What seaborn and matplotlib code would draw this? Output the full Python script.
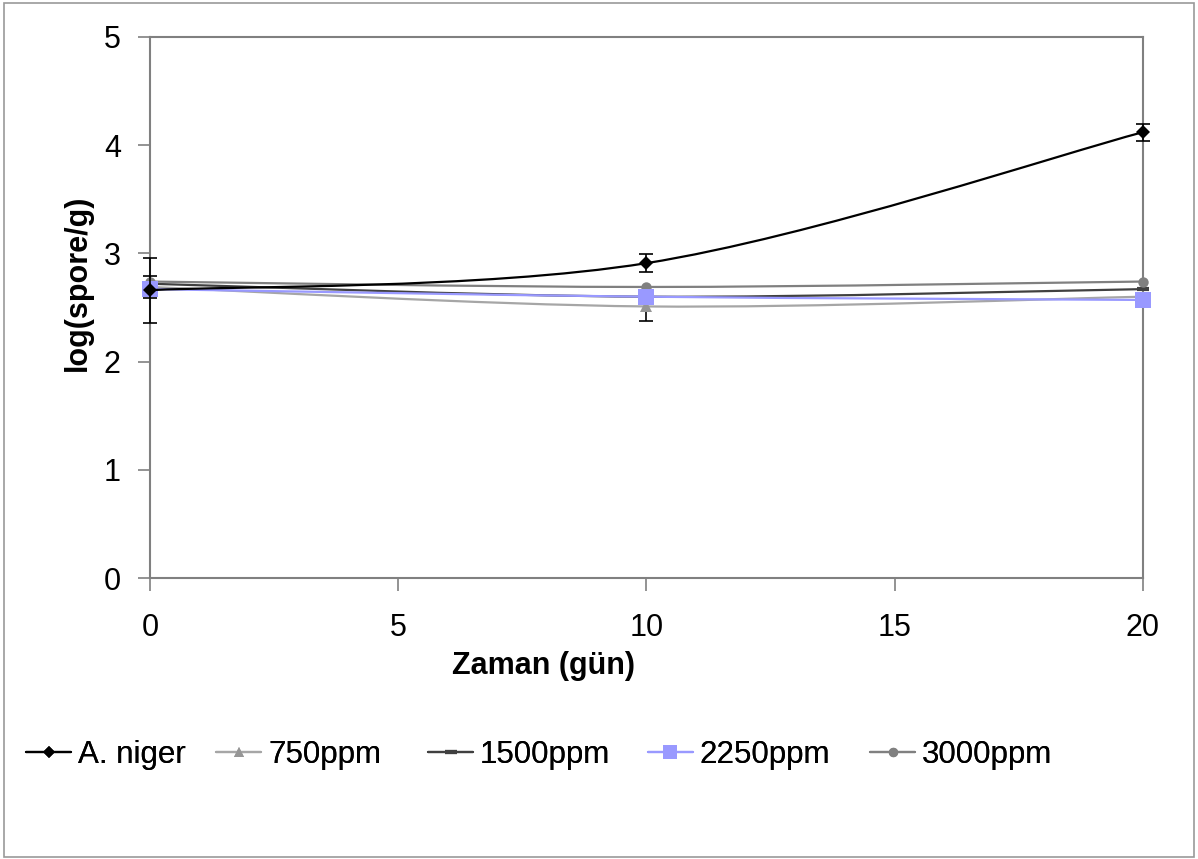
import matplotlib
matplotlib.use("Agg")
import matplotlib.pyplot as plt
from matplotlib.path import Path
from matplotlib.patches import PathPatch, Rectangle
from matplotlib.lines import Line2D
import numpy as np
import pandas as pd
import seaborn as sns

# data
days = [0, 10, 20]
series_names = ["A. niger", "750ppm", "1500ppm", "2250ppm", "3000ppm"]
a_niger = [2.66, 2.91, 4.12]
ppm750 = [2.69, 2.51, 2.60]
ppm1500 = [2.72, 2.60, 2.67]
ppm2250 = [2.67, 2.60, 2.57]
ppm3000 = [2.74, 2.69, 2.74]
err_a_niger = [0.30, 0.08, 0.08]
err_750 = [0.10, 0.13, 0.03]

values = [a_niger, ppm750, ppm1500, ppm2250, ppm3000]
errors = [err_a_niger, err_750, None, None, None]

styles = {
    "A. niger": dict(color="black", marker="D", ms=7, mfc="black"),
    "750ppm": dict(color="#A6A6A6", marker="^", ms=8, mfc="#969696"),
    "1500ppm": dict(color="#404040", marker="_", ms=9, mfc="#404040"),
    "2250ppm": dict(color="#9999FF", marker="s", ms=11, mfc="#9999FF"),
    "3000ppm": dict(color="#808080", marker="o", ms=7.5, mfc="#808080"),
}
zorders = {"A. niger": 6, "750ppm": 3, "1500ppm": 4, "2250ppm": 5, "3000ppm": 4}
legend_x = [26, 216, 428, 648, 870]  # pixel start of each legend entry


def smooth_path(xs, ys):
    # Excel-like smoothed line as cubic bezier segments
    pts = np.column_stack([xs, ys]).astype(float)
    n = len(pts)
    verts = [pts[0]]
    codes = [Path.MOVETO]
    for i in range(n - 1):
        p0 = pts[max(i - 1, 0)]
        p1 = pts[i]
        p2 = pts[i + 1]
        p3 = pts[min(i + 2, n - 1)]
        c1 = p1 + (p2 - p0) / 6
        c2 = p2 - (p3 - p1) / 6
        verts += [c1, c2, p2]
        codes += [Path.CURVE4] * 3
    return Path(verts, codes)


sns.set_style("white")
plt.rcParams["font.family"] = ["Liberation Sans", "DejaVu Sans"]
plt.rcParams["text.color"] = "black"
plt.rcParams["axes.labelcolor"] = "black"

fig = plt.figure(figsize=(11.98, 8.59), dpi=100)
ax = fig.add_axes([0.1252, 0.327, 0.8288, 0.630])

df = pd.DataFrame({
    "day": days * len(series_names),
    "value": sum(values, []),
    "series": [s for s in series_names for _ in days],
})

for name, vals, err in zip(series_names, values, errors):
    st = styles[name]
    z = zorders[name]
    ax.add_patch(PathPatch(smooth_path(days, vals), fill=False,
                           edgecolor=st["color"], lw=1.6, zorder=z))
    if err is not None:
        eb = ax.errorbar(days, vals, yerr=err, fmt="none", ecolor="black",
                         elinewidth=1.2, capsize=5, capthick=1.2, zorder=z)
        for art in eb.lines[1] + eb.lines[2]:
            art.set_clip_on(False)
    sub = df[df["series"] == name]
    sns.lineplot(data=sub, x="day", y="value", ax=ax, linestyle="",
                 marker=st["marker"], markersize=st["ms"], color=st["mfc"],
                 markeredgecolor=st["mfc"], markeredgewidth=3 if st["marker"] == "_" else 0,
                 zorder=z + 0.5, legend=False, clip_on=False)

ax.set_xlim(0, 20)
ax.set_ylim(0, 5)
ax.set_xticks([0, 5, 10, 15, 20])
ax.set_yticks([0, 1, 2, 3, 4, 5])
ax.tick_params(axis="both", labelsize=22, length=9, width=1.2, color="#808080",
               labelcolor="black", direction="out", bottom=True, left=True)
ax.tick_params(axis="y", pad=12)
ax.tick_params(axis="x", pad=16)
for sp in ax.spines.values():
    sp.set_color("#808080")
    sp.set_linewidth(1.5)
ax.set_xlabel("Zaman (gün)", fontsize=22, fontweight="bold")
ax.set_ylabel("log(spore/g)", fontsize=22, fontweight="bold")
ax.xaxis.set_label_coords(0.396, -0.135)
ax.yaxis.set_label_coords(-0.0574, 0.545)

for name, px in zip(series_names, legend_x):
    st = styles[name]
    h = Line2D([], [], color=st["color"], lw=1.6, marker=st["marker"],
               markersize=st["ms"] * 0.9, markerfacecolor=st["mfc"],
               markeredgecolor=st["mfc"],
               markeredgewidth=3 if st["marker"] == "_" else 0)
    leg = fig.legend([h], [name], loc="center left", bbox_to_anchor=(px / 1198, 1 - 755 / 859),
                     frameon=False, fontsize=22.5, handlelength=1.44, handletextpad=0.22,
                     borderpad=0, borderaxespad=0)
    fig.add_artist(leg)

fig.add_artist(Rectangle((0.003, 0.002), 0.994, 0.995, transform=fig.transFigure,
                         fill=False, edgecolor="#999999", lw=1.2))

plt.savefig("out.png", dpi=100)
